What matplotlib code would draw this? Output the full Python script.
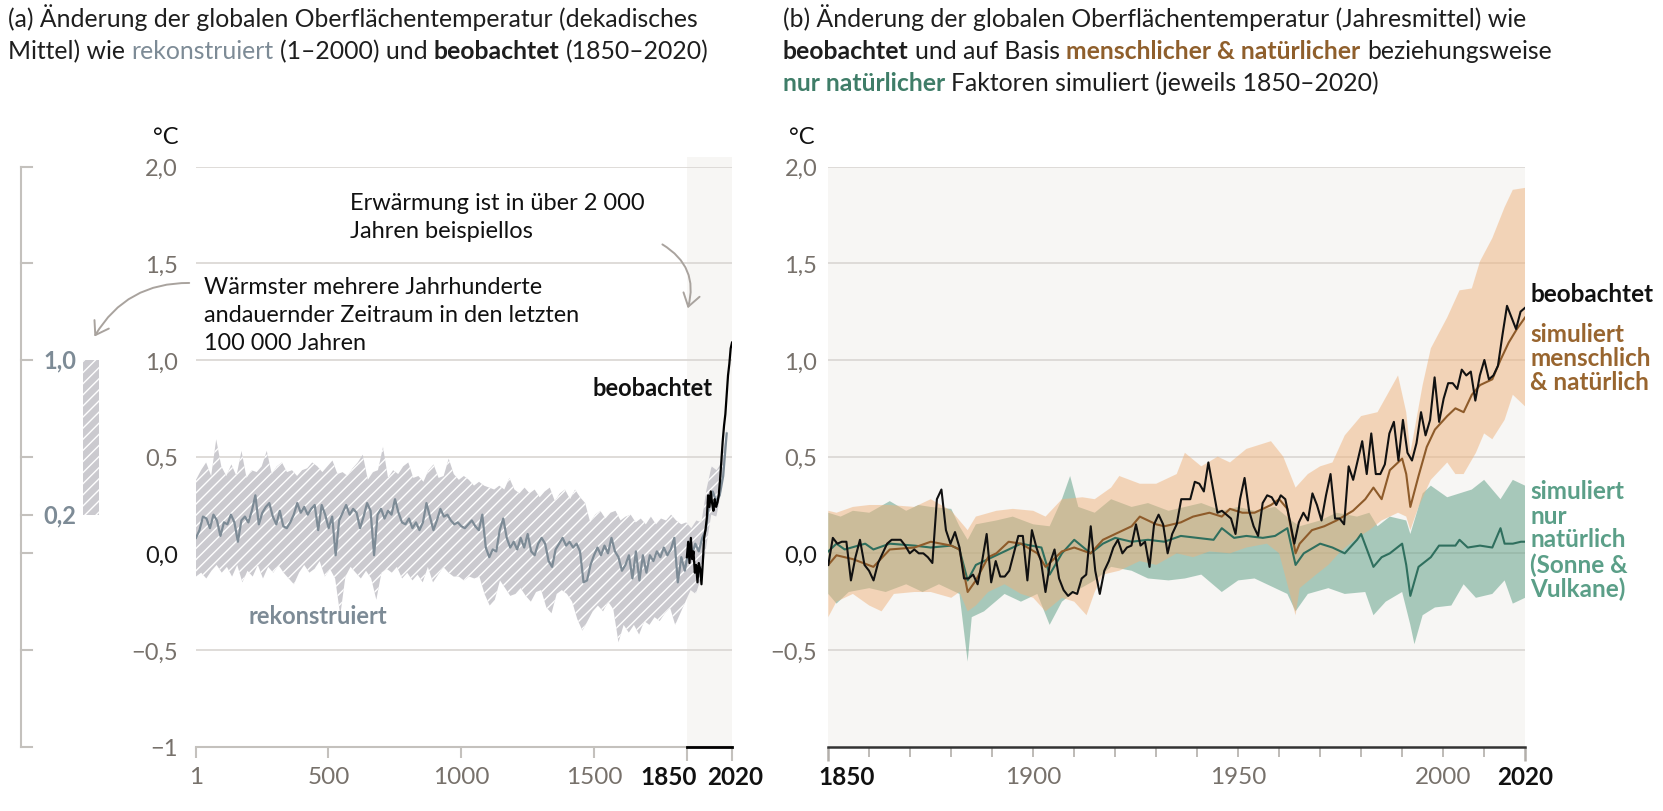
import numpy as np
import matplotlib.pyplot as plt
from matplotlib.patches import FancyArrowPatch

plt.rcParams['font.family'] = ['Lato', 'DejaVu Sans']
plt.rcParams['hatch.linewidth'] = 1.0

W, H = 1663, 812

# ---------------- panel (a): reconstruction (1-2000), decadal ----------------
recon_mean = [0.08, 0.12, 0.19, 0.18, 0.13, 0.20, 0.17, 0.09, 0.16, 0.15, 0.20, 0.16, 0.06, 0.17,
              0.19, 0.16, 0.22, 0.30, 0.15, 0.21, 0.24, 0.26, 0.19, 0.15, 0.22, 0.14, 0.13, 0.16,
              0.20, 0.26, 0.21, 0.24, 0.20, 0.23, 0.25, 0.12, 0.25, 0.20, 0.13, 0.19, -0.01, 0.17,
              0.21, 0.25, 0.20, 0.23, 0.21, 0.13, 0.19, 0.26, 0.22, -0.01, 0.20, 0.23, 0.18, 0.22,
              0.20, 0.28, 0.21, 0.16, 0.15, 0.18, 0.13, 0.16, 0.12, 0.16, 0.26, 0.19, 0.12, 0.17,
              0.23, 0.19, 0.20, 0.17, 0.15, 0.16, 0.14, 0.13, 0.15, 0.17, 0.14, 0.12, 0.20, 0.03,
              -0.02, 0.02, 0.01, 0.12, 0.18, 0.08, 0.03, 0.06, 0.02, 0.08, 0.03, 0.10, 0.01, -0.01,
              0.05, 0.08, 0.05, -0.04, -0.07, 0.02, 0.05, 0.08, 0.04, 0.06, 0.03, 0.05, 0.01, -0.15,
              -0.14, -0.06, -0.01, 0.03, -0.01, 0.04, 0.00, 0.08, 0.01, -0.02, -0.09, -0.06, -0.01,
              -0.13, 0.01, -0.14, -0.01, -0.10, -0.01, -0.04, 0.01, -0.02, 0.03, -0.01, 0.02, 0.08,
              -0.15, -0.02, -0.09, 0.01, -0.01, 0.05, 0.01, 0.08, 0.12, 0.26, 0.32, 0.27, 0.30,
              0.40, 0.62]
recon_upper = [0.38, 0.43, 0.47, 0.40, 0.59, 0.45, 0.40, 0.46, 0.40, 0.53, 0.39, 0.43, 0.42, 0.45,
               0.53, 0.41, 0.45, 0.47, 0.42, 0.43, 0.40, 0.43, 0.44, 0.47, 0.45, 0.42, 0.45, 0.48,
               0.41, 0.42, 0.40, 0.44, 0.47, 0.51, 0.38, 0.42, 0.43, 0.55, 0.39, 0.43, 0.41, 0.45,
               0.47, 0.39, 0.40, 0.37, 0.43, 0.46, 0.39, 0.40, 0.49, 0.41, 0.38, 0.40, 0.38, 0.35,
               0.37, 0.35, 0.34, 0.33, 0.35, 0.33, 0.39, 0.33, 0.31, 0.34, 0.31, 0.33, 0.29, 0.32,
               0.34, 0.27, 0.31, 0.33, 0.28, 0.33, 0.29, 0.26, 0.16, 0.20, 0.22, 0.18, 0.21, 0.22,
               0.17, 0.19, 0.20, 0.16, 0.18, 0.15, 0.19, 0.15, 0.18, 0.17, 0.20, 0.17, 0.15, 0.16,
               0.13, 0.17, 0.16, 0.33, 0.45, 0.43, 0.47, 0.64]
recon_lower = [-0.12, -0.10, -0.13, -0.09, -0.06, -0.10, -0.07, -0.12, -0.06, -0.15, -0.09, -0.12,
               -0.06, -0.13, -0.07, -0.10, -0.06, -0.10, -0.13, -0.16, -0.10, -0.06, -0.10, -0.08,
               -0.04, -0.12, -0.08, -0.13, -0.32, -0.12, -0.07, -0.10, -0.13, -0.09, -0.13, -0.24,
               -0.10, -0.08, -0.10, -0.07, -0.13, -0.10, -0.14, -0.11, -0.15, -0.07, -0.15, -0.11,
               -0.07, -0.10, -0.12, -0.12, -0.14, -0.12, -0.13, -0.12, -0.21, -0.27, -0.24, -0.14,
               -0.18, -0.22, -0.21, -0.18, -0.22, -0.25, -0.20, -0.19, -0.28, -0.31, -0.21, -0.19,
               -0.21, -0.25, -0.34, -0.40, -0.35, -0.30, -0.27, -0.30, -0.25, -0.29, -0.46, -0.37,
               -0.41, -0.37, -0.42, -0.35, -0.37, -0.33, -0.35, -0.31, -0.28, -0.37, -0.31, -0.25,
               -0.19, -0.21, -0.13, 0.03, 0.20, 0.19, 0.33, 0.59]

# panel (a): observed, 1850-2020
obs_a_years = [1850, 1855, 1860, 1865, 1870, 1875, 1880, 1885, 1890, 1895, 1900, 1905, 1910, 1915,
               1920, 1925, 1930, 1935, 1940, 1945, 1950, 1955, 1960, 1965, 1970, 1975, 1980, 1985,
               1990, 1995, 2000, 2005, 2010, 2015, 2020]
obs_a = [-0.02, 0.06, -0.05, 0.08, -0.03, 0.01, -0.10, -0.06, -0.15, -0.05, -0.08, -0.16, -0.05,
         0.08, 0.12, 0.18, 0.30, 0.24, 0.32, 0.26, 0.22, 0.28, 0.24, 0.26, 0.30, 0.38, 0.48, 0.58,
         0.66, 0.72, 0.82, 0.92, 0.98, 1.06, 1.09]

# ---------------- panel (b): annual 1850-2020 ----------------
obs_b = [-0.06, 0.08, 0.05, 0.06, 0.06, -0.14, -0.02, 0.07, -0.06, -0.09, -0.14, -0.05, 0.00,
         0.05, 0.07, 0.07, 0.07, 0.04, 0.00, 0.02, 0.00, 0.00, -0.02, -0.05, 0.28, 0.33, 0.12,
         0.05, 0.11, 0.03, -0.13, -0.13, -0.11, -0.16, -0.04, 0.10, -0.15, -0.04, -0.12, -0.12,
         -0.09, 0.00, 0.09, 0.09, -0.14, 0.12, 0.03, -0.04, -0.20, -0.05, 0.02, -0.13, -0.19,
         -0.22, -0.20, -0.21, -0.13, -0.11, 0.14, -0.09, -0.21, -0.09, -0.04, 0.03, 0.07, 0.00,
         0.03, 0.04, 0.15, 0.04, 0.06, -0.07, 0.15, 0.20, 0.15, 0.00, 0.10, 0.15, 0.28, 0.28,
         0.28, 0.37, 0.36, 0.32, 0.47, 0.34, 0.21, 0.22, 0.20, 0.18, 0.10, 0.28, 0.39, 0.22,
         0.14, 0.09, 0.26, 0.30, 0.29, 0.25, 0.30, 0.28, 0.17, 0.05, 0.16, 0.21, 0.17, 0.31,
         0.25, 0.17, 0.30, 0.41, 0.18, 0.18, 0.15, 0.45, 0.38, 0.48, 0.58, 0.41, 0.62, 0.41,
         0.41, 0.46, 0.62, 0.68, 0.48, 0.69, 0.52, 0.48, 0.57, 0.73, 0.61, 0.69, 0.91, 0.68,
         0.80, 0.88, 0.88, 0.85, 0.95, 0.92, 0.94, 0.79, 0.92, 1.00, 0.90, 0.92, 0.97, 1.13,
         1.28, 1.22, 1.16, 1.25, 1.27]

hn_years = [1850, 1852, 1856, 1861, 1865, 1871, 1875, 1880, 1882, 1884, 1886, 1889, 1891, 1894,
            1897, 1901, 1903, 1907, 1910, 1914, 1917, 1920, 1924, 1926, 1930, 1932, 1936, 1939,
            1943, 1946, 1948, 1951, 1954, 1958, 1960, 1962, 1964, 1965, 1968, 1971, 1974, 1978,
            1981, 1983, 1985, 1987, 1990, 1991, 1992, 1994, 1996, 1998, 2001, 2003, 2005, 2007,
            2009, 2012, 2014, 2016, 2018, 2020]
hn_mean = [-0.06, -0.01, -0.03, -0.07, 0.02, 0.03, 0.06, 0.04, 0.02, -0.20, -0.14, -0.02, 0.00,
           0.06, 0.05, 0.00, -0.07, 0.01, 0.03, 0.00, 0.07, 0.10, 0.14, 0.19, 0.15, 0.14, 0.16,
           0.19, 0.21, 0.19, 0.23, 0.21, 0.21, 0.25, 0.28, 0.23, 0.00, 0.05, 0.12, 0.14, 0.17,
           0.22, 0.28, 0.34, 0.28, 0.43, 0.49, 0.41, 0.24, 0.40, 0.55, 0.64, 0.71, 0.75, 0.73,
           0.82, 0.87, 0.90, 1.00, 1.09, 1.16, 1.22]

nat_years = [1850, 1852, 1854, 1859, 1861, 1865, 1871, 1875, 1880, 1882, 1884, 1886, 1890, 1893,
             1897, 1902, 1904, 1907, 1910, 1914, 1917, 1920, 1924, 1928, 1932, 1936, 1940, 1944,
             1946, 1949, 1952, 1956, 1959, 1962, 1964, 1966, 1970, 1973, 1976, 1979, 1980, 1983,
             1985, 1987, 1990, 1991, 1992, 1994, 1997, 1999, 2003, 2004, 2006, 2009, 2012, 2014,
             2015, 2017, 2019, 2020]
nat_mean = [0.01, 0.05, 0.02, 0.05, 0.02, 0.05, 0.04, 0.03, 0.04, 0.02, -0.14, -0.06, -0.02, 0.01,
            0.05, 0.03, -0.11, 0.00, 0.07, 0.00, 0.05, 0.08, 0.06, 0.07, 0.06, 0.09, 0.08, 0.07,
            0.13, 0.08, 0.09, 0.08, 0.09, 0.13, -0.06, 0.00, 0.05, 0.03, 0.00, 0.07, 0.10, -0.07,
            -0.02, 0.00, 0.05, -0.06, -0.22, -0.07, -0.02, 0.04, 0.04, 0.07, 0.03, 0.04, 0.03,
            0.13, 0.05, 0.05, 0.06, 0.06]

hn_up_years = [1850, 1852, 1856, 1860, 1865, 1871, 1875, 1880, 1882, 1884, 1886, 1891, 1895, 1900,
               1903, 1907, 1912, 1915, 1919, 1921, 1926, 1930, 1935, 1937, 1941, 1945, 1948, 1952,
               1958, 1961, 1964, 1967, 1970, 1973, 1976, 1980, 1984, 1989, 1991, 1992, 1995, 1997,
               2001, 2004, 2007, 2009, 2012, 2015, 2017, 2020]
hn_up = [0.22, 0.21, 0.24, 0.25, 0.25, 0.24, 0.28, 0.22, 0.17, 0.12, 0.19, 0.22, 0.23, 0.22, 0.19,
         0.28, 0.29, 0.28, 0.34, 0.40, 0.36, 0.36, 0.41, 0.52, 0.45, 0.50, 0.47, 0.54, 0.58, 0.50,
         0.34, 0.41, 0.45, 0.47, 0.61, 0.71, 0.73, 0.92, 0.73, 0.52, 0.87, 1.06, 1.22, 1.36, 1.37,
         1.51, 1.63, 1.79, 1.88, 1.89]
hn_lo_years = [1850, 1852, 1856, 1860, 1863, 1866, 1871, 1875, 1880, 1882, 1884, 1886, 1889, 1893,
               1897, 1900, 1903, 1907, 1910, 1913, 1915, 1917, 1921, 1926, 1930, 1935, 1939, 1943,
               1948, 1952, 1957, 1960, 1962, 1964, 1965, 1969, 1972, 1975, 1979, 1982, 1985, 1989,
               1991, 1992, 1994, 1997, 2001, 2003, 2005, 2008, 2010, 2012, 2015, 2017, 2020]
hn_lo = [-0.33, -0.25, -0.21, -0.27, -0.30, -0.21, -0.20, -0.20, -0.23, -0.20, -0.30, -0.27, -0.20,
         -0.16, -0.21, -0.23, -0.30, -0.23, -0.25, -0.32, -0.20, -0.11, -0.09, -0.04, -0.06, 0.00,
         -0.02, 0.01, 0.00, 0.03, 0.05, 0.00, -0.16, -0.32, -0.18, -0.11, -0.06, 0.01, 0.08, 0.12,
         0.17, 0.21, 0.19, 0.12, 0.24, 0.38, 0.47, 0.41, 0.41, 0.52, 0.62, 0.59, 0.69, 0.82, 0.76]

nat_up_years = [1850, 1853, 1856, 1860, 1865, 1869, 1872, 1875, 1880, 1882, 1884, 1886, 1891, 1895,
                1900, 1904, 1907, 1909, 1911, 1915, 1919, 1924, 1928, 1933, 1937, 1941, 1946, 1950,
                1954, 1959, 1963, 1965, 1970, 1974, 1979, 1982, 1984, 1987, 1991, 1992, 1995, 1997,
                2001, 2004, 2007, 2010, 2014, 2017, 2020]
nat_up = [0.21, 0.19, 0.22, 0.21, 0.27, 0.22, 0.25, 0.24, 0.23, 0.14, 0.07, 0.15, 0.17, 0.19, 0.15,
          0.14, 0.28, 0.40, 0.24, 0.21, 0.28, 0.24, 0.26, 0.22, 0.24, 0.26, 0.22, 0.24, 0.22, 0.24,
          0.17, 0.14, 0.17, 0.21, 0.19, 0.21, 0.14, 0.19, 0.17, 0.10, 0.31, 0.35, 0.29, 0.31, 0.33,
          0.38, 0.28, 0.38, 0.35]
nat_lo_years = [1850, 1852, 1855, 1860, 1864, 1869, 1873, 1877, 1882, 1884, 1885, 1888, 1893, 1897,
                1901, 1904, 1907, 1910, 1915, 1919, 1924, 1928, 1933, 1937, 1941, 1946, 1950, 1954,
                1959, 1962, 1964, 1967, 1972, 1976, 1981, 1983, 1986, 1990, 1992, 1993, 1995, 1998,
                2002, 2005, 2008, 2012, 2015, 2017, 2020]
nat_lo = [-0.21, -0.26, -0.20, -0.18, -0.20, -0.16, -0.20, -0.16, -0.21, -0.56, -0.33, -0.30, -0.21,
          -0.25, -0.21, -0.37, -0.25, -0.20, -0.14, -0.07, -0.09, -0.13, -0.14, -0.13, -0.11, -0.20,
          -0.14, -0.13, -0.18, -0.21, -0.30, -0.21, -0.18, -0.21, -0.20, -0.32, -0.25, -0.20,
          -0.37, -0.47, -0.32, -0.28, -0.27, -0.16, -0.23, -0.21, -0.14, -0.26, -0.23]

ytick_vals = [2.0, 1.5, 1.0, 0.5, 0.0, -0.5, -1.0]
ytick_text = ['2,0', '1,5', '1,0', '0,5', '0,0', '\u22120,5', '\u22121']

# colours
GRID = '#dcd9d5'
TICK = '#77716b'
SLATE = '#7d8b96'
HATCH_FACE = '#cbcacf'
BROWN = '#8e5b2a'
BROWN_TXT = '#98652f'
GREEN = '#2f6f5e'
GREEN_TXT = '#5b9f88'
ORANGE_FILL = '#efb27c'
GREEN_FILL = '#599c82'
BG = '#f7f6f4'
DARK = '#1e1e1e'


def fx(x):
    return x / W


def fy(y):
    return 1 - y / H


fig = plt.figure(figsize=(W / 100, H / 100), dpi=100)
top, bot = 167.6, 747.7
axa = fig.add_axes([fx(196), fy(bot), (732 - 196) / W, (bot - top) / H])
axb = fig.add_axes([fx(828.3), fy(bot), (1525.1 - 828.3) / W, (bot - top) / H])
axl = fig.add_axes([fx(10), fy(bot), 100 / W, (bot - top) / H])

# ---------------- left bracket axis ----------------
axl.set_xlim(0, 100)
axl.set_ylim(-1, 2)
axl.axis('off')
axl.plot([11, 11], [-1, 2], color='#c4c1bd', lw=1.5, clip_on=False)
for v in [2, 1.5, 1.0, 0.5, 0.2, 0, -0.5, -1]:
    axl.plot([11, 22], [v, v], color='#c4c1bd', lw=1.5, clip_on=False)
axl.fill_between([73, 89], 0.2, 1.0, facecolor=HATCH_FACE, hatch='///', edgecolor='white', lw=0)
axl.text(66, 1.0, '1,0', ha='right', va='center', color=SLATE, fontsize=17, fontweight='bold')
axl.text(66, 0.2, '0,2', ha='right', va='center', color=SLATE, fontsize=17, fontweight='bold')

# ---------------- panel (a) ----------------
axa.set_xlim(1, 2020)
axa.set_ylim(-1, 2)
axa.fill_between([1850, 2020], -1, 2.05, color=BG, lw=0, zorder=0, clip_on=False)
for v in ytick_vals[:-1]:
    axa.axhline(v, color=GRID, lw=1.3, zorder=0.5)
ry = np.linspace(1, 2000, len(recon_upper))
rl = np.linspace(1, 2000, len(recon_lower))
axa.fill(np.r_[ry, rl[::-1]], np.r_[recon_upper, recon_lower[::-1]],
         facecolor=HATCH_FACE, hatch='///', edgecolor='white', lw=0, zorder=1)
axa.plot(np.linspace(1, 2000, len(recon_mean)), recon_mean, color=SLATE, lw=1.6, zorder=2)
axa.plot(obs_a_years, obs_a, color='black', lw=1.6, zorder=3)

for s in ['top', 'right', 'left']:
    axa.spines[s].set_visible(False)
axa.spines['bottom'].set_color('#c4c1bd')
axa.spines['bottom'].set_linewidth(1.5)
axa.plot([1850, 2020], [-1, -1], color='black', lw=2, clip_on=False, zorder=5)
axa.set_yticks(ytick_vals)
axa.set_yticklabels(ytick_text)
axa.tick_params(axis='y', length=0, pad=13, labelsize=17, labelcolor=TICK)
axa.get_yticklabels()[4].set_color('#1a1a1a')

xa_ticks = [1, 500, 1000, 1500, 1850, 2020]
axa.set_xticks(xa_ticks)
axa.set_xticklabels([])
axa.tick_params(axis='x', length=8, width=1.5, color='#c4c1bd')
for t, loc in zip(axa.xaxis.get_major_ticks(), xa_ticks):
    if loc >= 1850:
        t.tick1line.set_color('black')
        t.tick1line.set_markersize(10)
for loc in xa_ticks:
    bold = loc >= 1850
    dx = {1850: 10, 2020: 3}.get(loc, 0)
    axa.annotate(str(loc), xy=(loc, 0), xycoords=('data', 'axes fraction'),
                 xytext=(dx, -30), textcoords='offset pixels',
                 ha='right' if loc == 1850 else 'center', va='center', fontsize=17.5,
                 fontweight='bold' if bold else 'normal', color='#111111' if bold else TICK)

axa.text(460, -0.32, 'rekonstruiert', color=SLATE, fontsize=17, fontweight='bold',
         ha='center', va='center')
axa.text(1948, 0.86, 'beobachtet', color='#111111', fontsize=17, fontweight='bold',
         ha='right', va='center')

# ---------------- panel (b) ----------------
axb.set_xlim(1850, 2020)
axb.set_ylim(-1, 2)
axb.set_facecolor(BG)
for v in ytick_vals[:-1]:
    axb.axhline(v, color=GRID, lw=1.3, zorder=0.5)
axb.fill(np.r_[nat_up_years, nat_lo_years[::-1]], np.r_[nat_up, nat_lo[::-1]],
         facecolor=GREEN_FILL, alpha=0.5, edgecolor='none', zorder=1)
axb.fill(np.r_[hn_up_years, hn_lo_years[::-1]], np.r_[hn_up, hn_lo[::-1]],
         facecolor=ORANGE_FILL, alpha=0.5, edgecolor='none', zorder=1.1)
axb.plot(nat_years, nat_mean, color=GREEN, lw=1.5, zorder=2)
axb.plot(hn_years, hn_mean, color=BROWN, lw=1.5, zorder=2)
axb.plot(np.linspace(1850, 2020, len(obs_b)), obs_b, color='#111111', lw=1.5, zorder=3)

for s in ['top', 'right', 'left']:
    axb.spines[s].set_visible(False)
axb.spines['bottom'].set_color('#333333')
axb.spines['bottom'].set_linewidth(1.8)
axb.set_yticks(ytick_vals[:-1])
axb.set_yticklabels(ytick_text[:-1])
axb.tick_params(axis='y', length=0, pad=8, labelsize=17, labelcolor=TICK)
axb.get_yticklabels()[4].set_color('#1a1a1a')

xb_ticks = [1850, 1900, 1950, 2000, 2020]
axb.set_xticks(xb_ticks)
axb.set_xticks([y for y in range(1860, 2020, 10) if y not in xb_ticks], minor=True)
axb.set_xticklabels([])
axb.tick_params(axis='x', which='both', length=7, width=1.2, color='#b3afaa')
for t, loc in zip(axb.xaxis.get_major_ticks(), xb_ticks):
    if loc in (1850, 2020):
        t.tick1line.set_color('#222222')
        t.tick1line.set_markersize(10)
        t.tick1line.set_markeredgewidth(1.8)
for loc in xb_ticks:
    bold = loc in (1850, 2020)
    axb.annotate(str(loc), xy=(loc, 0), xycoords=('data', 'axes fraction'),
                 xytext=(18 if loc == 1850 else 0, -30), textcoords='offset pixels',
                 ha='center', va='center', fontsize=17.5,
                 fontweight='bold' if bold else 'normal', color='#111111' if bold else TICK)

# ---------------- unit labels ----------------
fig.text(fx(166), fy(138), '\u00b0C', fontsize=17, ha='center', va='center', color='#111111')
fig.text(fx(802), fy(138), '\u00b0C', fontsize=17, ha='center', va='center', color='#111111')

# ---------------- right-hand labels panel (b) ----------------
LSIZE = 17.5
fig.text(fx(1530), fy(295), 'beobachtet', fontsize=LSIZE, fontweight='bold', color='#111111',
         va='center')
for yy, s in zip([335, 359, 383], ['simuliert', 'menschlich', '& natürlich']):
    fig.text(fx(1530), fy(yy), s, fontsize=LSIZE, fontweight='bold', color=BROWN_TXT, va='center')
for yy, s in zip([492, 516, 540, 565, 589],
                 ['simuliert', 'nur', 'natürlich', '(Sonne &', 'Vulkane)']):
    fig.text(fx(1530), fy(yy), s, fontsize=LSIZE, fontweight='bold', color=GREEN_TXT, va='center')

# ---------------- annotations panel (a) ----------------
fig.text(fx(350), fy(204), 'Erwärmung ist in über 2 000', fontsize=17, color='#111111', va='center')
fig.text(fx(350), fy(232), 'Jahren beispiellos', fontsize=17, color='#111111', va='center')
for yy, s in zip([288, 316, 344], ['Wärmster mehrere Jahrhunderte',
                                   'andauernder Zeitraum in den letzten', '100 000 Jahren']):
    fig.text(fx(204), fy(yy), s, fontsize=16.8, color='#111111', va='center')

arrow_kw = dict(arrowstyle='->,head_length=0.45,head_width=0.3', color='#a9a39e', lw=1.4,
                mutation_scale=20)
fig.add_artist(FancyArrowPatch(
    (fx(660), fy(244)), (fx(687), fy(312)), transform=fig.transFigure,
    connectionstyle='arc3,rad=-0.4', **arrow_kw))
fig.add_artist(FancyArrowPatch(
    (fx(192), fy(284)), (fx(93), fy(340)), transform=fig.transFigure,
    connectionstyle='arc3,rad=0.3', **arrow_kw))

# ---------------- titles with mixed styling ----------------
renderer = fig.canvas.get_renderer()
TSIZE = 17.8


def text_width(s, weight):
    t = fig.text(0, 0, s, fontsize=TSIZE, fontweight=weight)
    w = t.get_window_extent(renderer).width
    t.remove()
    return w


space_w = text_width('a a', 'normal') - text_width('aa', 'normal')


def rich_line(x, y, parts):
    for s, color, weight in parts:
        if s == ' ':
            x += space_w
            continue
        t = fig.text(fx(x), fy(y), s, fontsize=TSIZE, color=color, fontweight=weight,
                     va='baseline', ha='left')
        x += t.get_window_extent(renderer).width


rich_line(8, 27, [('(a) Änderung der globalen Oberflächentemperatur (dekadisches', DARK, 'normal')])
rich_line(8, 59, [('Mittel) wie', DARK, 'normal'), (' ', 0, 0), ('rekonstruiert', SLATE, 'normal'),
                  (' ', 0, 0), ('(1–2000) und', DARK, 'normal'), (' ', 0, 0),
                  ('beobachtet', DARK, 'bold'), (' ', 0, 0), ('(1850–2020)', DARK, 'normal')])
rich_line(783, 27, [('(b) Änderung der globalen Oberflächentemperatur (Jahresmittel) wie',
                     DARK, 'normal')])
rich_line(783, 59, [('beobachtet', DARK, 'bold'), (' ', 0, 0), ('und auf Basis', DARK, 'normal'),
                    (' ', 0, 0), ('menschlicher & natürlicher', '#8f5f2c', 'bold'), (' ', 0, 0),
                    ('beziehungsweise', DARK, 'normal')])
rich_line(783, 91, [('nur natürlicher', '#3f7d68', 'bold'), (' ', 0, 0),
                    ('Faktoren simuliert (jeweils 1850–2020)', DARK, 'normal')])

fig.savefig('out.png', dpi=100, facecolor='white')
